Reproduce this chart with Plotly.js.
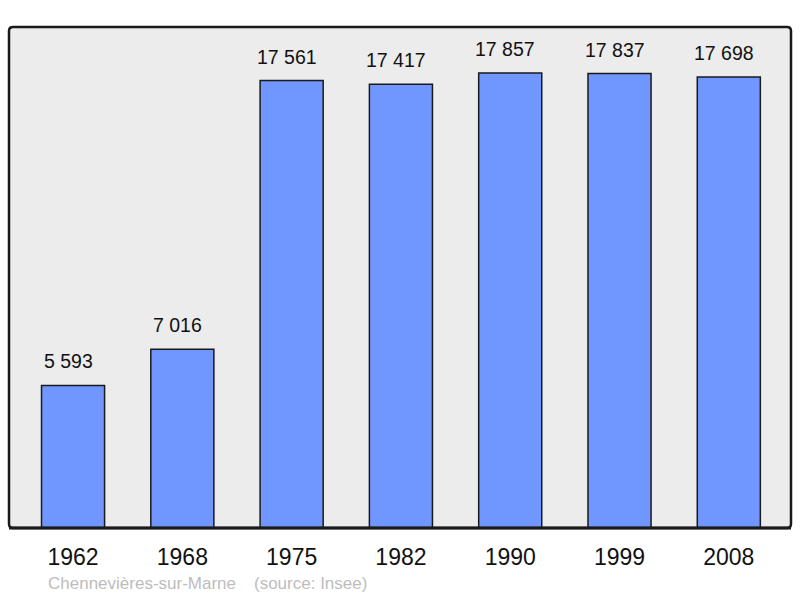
<!DOCTYPE html>
<html><head><meta charset="utf-8">
<script src="https://cdn.plot.ly/plotly-3.0.1.min.js"></script>
<style>html,body{margin:0;padding:0;background:#fff}#chart{width:800px;height:598px}</style>
</head><body><div id="chart"></div>
<script>
const years = ['1962','1968','1975','1982','1990','1999','2008'];
const population = [5593, 7016, 17561, 17417, 17857, 17837, 17698];
const valueLabels = ['5 593','7 016','17 561','17 417','17 857','17 837','17 698'];
const sourceName = 'Chennevières-sur-Marne';
const sourceNote = '(source: Insee)';

const font = 'Liberation Sans, Arial, sans-serif';
const PW = 782, PH = 501;
const annotations = years.map((y, i) => ({
  xref: 'x', yref: 'y', x: i, y: population[i], text: valueLabels[i], showarrow: false,
  xanchor: 'center', yanchor: 'bottom', yshift: 11, xshift: -5, font: {family: font, size: 19.5, color: '#111'}
}));
annotations.push({xref:'paper', yref:'paper', x: 37/PW, y: -55/PH, xanchor:'left', yanchor:'middle',
  text: sourceName, showarrow:false, font:{family:font, size:17, color:'#bdbdbd'}});
annotations.push({xref:'paper', yref:'paper', x: 243/PW, y: -55/PH, xanchor:'left', yanchor:'middle',
  text: sourceNote, showarrow:false, font:{family:font, size:17, color:'#bdbdbd'}});

// rounded frame path in paper coords
const rx = 4/PW, ry = 4/PH;
const framePath = `M ${rx} 0 L ${1-rx} 0 Q 1 0 1 ${ry} L 1 ${1-ry} Q 1 1 ${1-rx} 1 L ${rx} 1 Q 0 1 0 ${1-ry} L 0 ${ry} Q 0 0 ${rx} 0 Z`;

Plotly.newPlot('chart', [{
  type: 'bar', x: years, y: population, width: 0.577,
  marker: {color: '#7097ff', line: {color: '#1a1a1a', width: 1.5}},
  hoverinfo: 'none'
}], {
  width: 800, height: 598,
  margin: {l: 9, r: 9, t: 27, b: 70},
  paper_bgcolor: '#ffffff', plot_bgcolor: '#ffffff',
  showlegend: false,
  xaxis: {type: 'category', range: [-0.586, 6.569], showgrid: false, zeroline: false,
    ticks: '', ticklabelstandoff: 13, tickfont: {family: font, size: 23, color: '#111'}, showline: false},
  yaxis: {range: [0, 19662], showgrid: false, zeroline: false, showticklabels: false, ticks: '', showline: false},
  shapes: [
    {type: 'path', xref: 'paper', yref: 'paper', path: framePath, fillcolor: '#ececec', line: {width: 0}, layer: 'below'},
    {type: 'path', xref: 'paper', yref: 'paper', path: framePath, line: {color: '#1a1a1a', width: 2.5}, layer: 'above'},
    {type: 'line', xref: 'paper', yref: 'paper', x0: 0, x1: 1, y0: 0, y1: 0, line: {color: '#1a1a1a', width: 3}, layer: 'above'}
  ],
  annotations: annotations
}, {staticPlot: true});
</script></body></html>
